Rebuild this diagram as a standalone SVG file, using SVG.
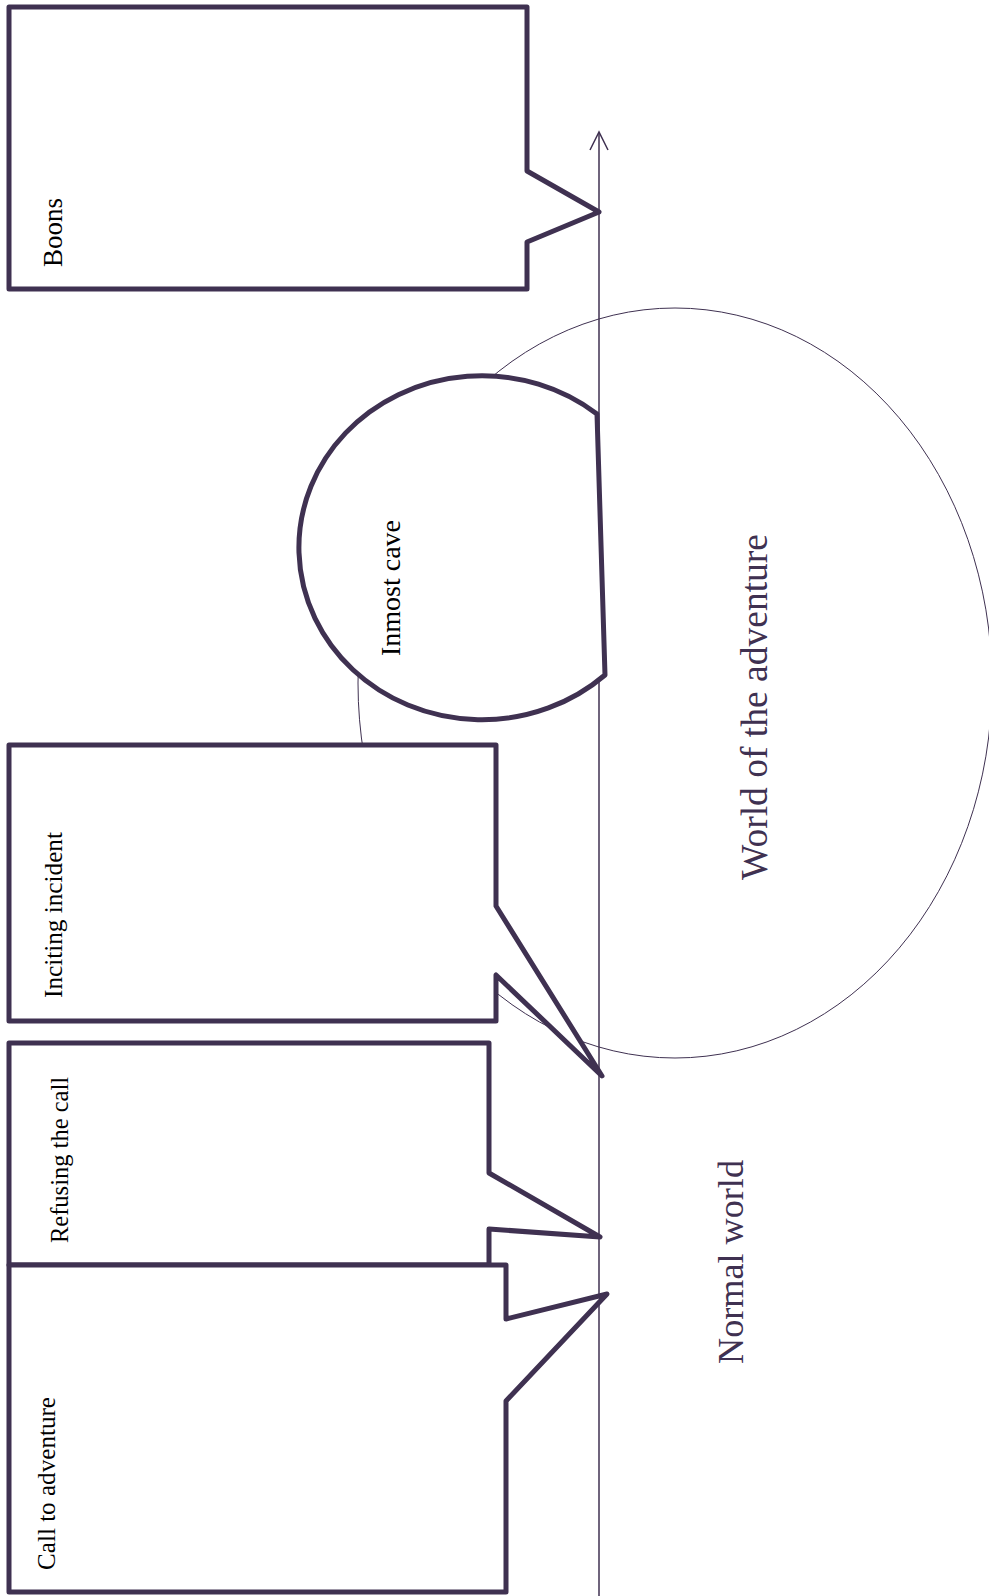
<svg xmlns="http://www.w3.org/2000/svg" width="989" height="1596" viewBox="0 0 989 1596">
<style>
.box{fill:#ffffff;stroke:#3f3151;stroke-width:5;stroke-linejoin:round}
.thin{fill:none;stroke:#3f3151;stroke-width:1}
.axis{fill:none;stroke:#3f3151;stroke-width:1.5}
.lbl{font-family:"Liberation Serif","Times New Roman",serif;fill:#000000}
.big{font-family:"Liberation Serif","Times New Roman",serif;fill:#3f3151}
</style>
<rect width="989" height="1596" fill="#ffffff"/>
<g id="world-adventure">
<ellipse class="thin" cx="675" cy="683" rx="317" ry="375"/>
<text class="big" font-size="37" transform="translate(767,880) rotate(-90)" textLength="346" lengthAdjust="spacingAndGlyphs">World of the adventure</text>
</g>
<g id="normal-world">
<text class="big" font-size="36" transform="translate(743,1364) rotate(-90)" textLength="204" lengthAdjust="spacingAndGlyphs">Normal world</text>
</g>
<g id="connectors">
<line class="axis" x1="599" y1="1596" x2="599" y2="133"/>
<path class="axis" d="M590,150 L599,132 L608,150"/>
</g>
<g id="inmost-cave">
<path class="box" d="M597,414 A183,172 0 1 0 605,675 Z"/>
<text class="lbl" font-size="27.5" transform="translate(400,656) rotate(-90)" textLength="136" lengthAdjust="spacingAndGlyphs">Inmost cave</text>
</g>
<g id="boons">
<path class="box" d="M9,7 L527,7 L527,171 L599,212 L527,242 L527,289 L9,289 Z"/>
<text class="lbl" font-size="27" transform="translate(62,267) rotate(-90)" textLength="69" lengthAdjust="spacingAndGlyphs">Boons</text>
</g>
<g id="inciting-incident">
<path class="box" d="M9,745 L496,745 L496,906 L602,1076 L496,975 L496,1021 L9,1021 Z"/>
<text class="lbl" font-size="25" transform="translate(62,998) rotate(-90)" textLength="166" lengthAdjust="spacingAndGlyphs">Inciting incident</text>
</g>
<g id="refusing-the-call">
<path class="box" d="M9,1043 L489,1043 L489,1173 L600,1237 L489,1229 L489,1265 L9,1265 Z"/>
<text class="lbl" font-size="24.5" transform="translate(68,1243) rotate(-90)" textLength="166" lengthAdjust="spacingAndGlyphs">Refusing the call</text>
</g>
<g id="call-to-adventure">
<path class="box" d="M9,1265 L506,1265 L506,1319 L607,1294 L506,1401 L506,1592 L9,1592 Z"/>
<text class="lbl" font-size="25" transform="translate(55,1570) rotate(-90)" textLength="173" lengthAdjust="spacingAndGlyphs">Call to adventure</text>
</g>
</svg>
